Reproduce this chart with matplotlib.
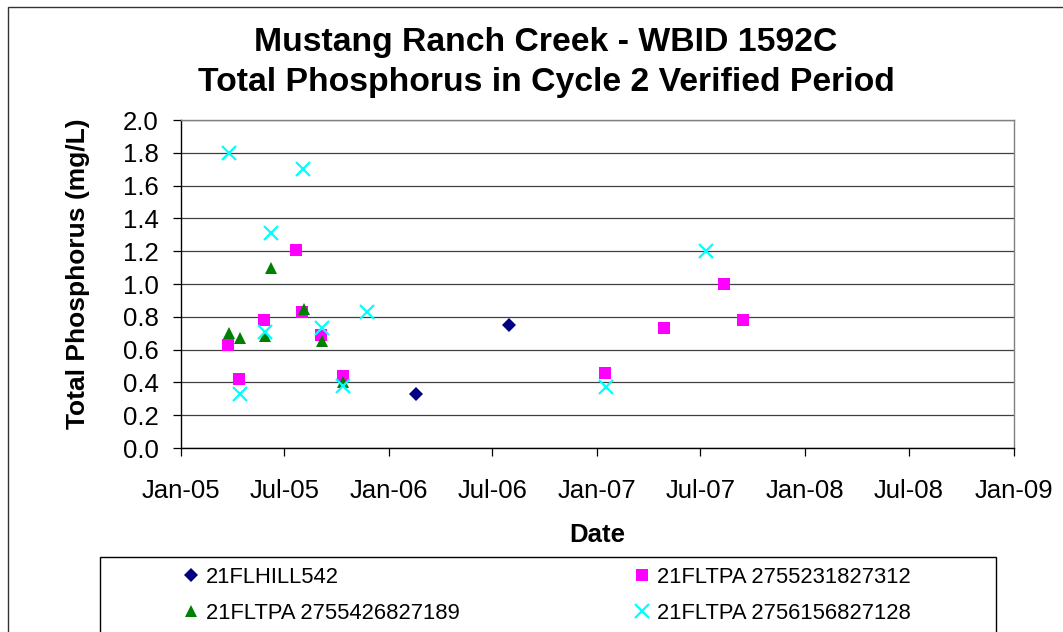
import datetime as dt
import matplotlib
matplotlib.use("Agg")
import matplotlib.pyplot as plt
import matplotlib.dates as mdates
from matplotlib.patches import Rectangle
from matplotlib.lines import Line2D

plt.rcParams["font.family"] = ["Liberation Sans", "DejaVu Sans"]

D = dt.date

# 21FLHILL542
hill_dates = [D(2006, 2, 17), D(2006, 7, 30)]
hill_tp = [0.33, 0.75]

# 21FLTPA 2755231827312
tpa1_dates = [D(2005, 3, 24), D(2005, 4, 12), D(2005, 5, 27), D(2005, 7, 22),
              D(2005, 8, 2), D(2005, 9, 4), D(2005, 10, 12), D(2007, 1, 15),
              D(2007, 4, 29), D(2007, 8, 11), D(2007, 9, 14)]
tpa1_tp = [0.63, 0.42, 0.78, 1.21, 0.83, 0.69, 0.44, 0.46, 0.73, 1.00, 0.78]

# 21FLTPA 2755426827189
tpa2_dates = [D(2005, 3, 26), D(2005, 4, 14), D(2005, 5, 29), D(2005, 6, 8),
              D(2005, 8, 4), D(2005, 9, 6), D(2005, 10, 13)]
tpa2_tp = [0.70, 0.67, 0.68, 1.10, 0.85, 0.65, 0.40]

# 21FLTPA 2756156827128
tpa3_dates = [D(2005, 3, 26), D(2005, 8, 3), D(2005, 6, 8), D(2005, 5, 28),
              D(2005, 9, 6), D(2005, 11, 23), D(2005, 4, 14), D(2005, 10, 13),
              D(2007, 1, 16), D(2007, 7, 11)]
tpa3_tp = [1.80, 1.70, 1.31, 0.71, 0.73, 0.83, 0.33, 0.38, 0.37, 1.20]

labels = ["21FLHILL542", "21FLTPA 2755231827312",
          "21FLTPA 2755426827189", "21FLTPA 2756156827128"]
tick_dates = [D(2005, 1, 1), D(2005, 7, 1), D(2006, 1, 1), D(2006, 7, 1), D(2007, 1, 1),
              D(2007, 7, 1), D(2008, 1, 1), D(2008, 7, 1), D(2009, 1, 1)]

W, H = 1063, 632
fig = plt.figure(figsize=(W / 100, H / 100), dpi=100)
ax = fig.add_axes([181 / W, 1 - 448 / H, (1014 - 181) / W, (448 - 120) / H])

styles = [
    dict(marker="D", color="#000080", ms=7.5, mew=0),
    dict(marker="s", color="#FF00FF", ms=9, mew=0),
    dict(marker="^", color="#008000", ms=8.5, mew=0),
    dict(marker="x", color="#00FFFF", ms=10.5, mew=1.6),
]
series = [(hill_dates, hill_tp), (tpa1_dates, tpa1_tp), (tpa2_dates, tpa2_tp), (tpa3_dates, tpa3_tp)]
for (x, y), st, lab in zip(series, styles, labels):
    ax.plot(x, y, linestyle="none", marker=st["marker"], color=st["color"],
            markersize=st["ms"], markeredgewidth=st["mew"], label=lab, clip_on=False, zorder=3)

ax.set_xlim(tick_dates[0], tick_dates[-1])
ax.set_ylim(0, 2.0)
ax.set_xticks(tick_dates)
ax.xaxis.set_major_formatter(mdates.DateFormatter("%b-%y"))
ax.set_yticks([i / 5 for i in range(11)])
ax.yaxis.set_major_formatter(plt.FormatStrFormatter("%.1f"))
ax.grid(axis="y", color="#404040", linewidth=0.9)
ax.set_axisbelow(True)
ax.tick_params(axis="both", direction="out", length=6, width=0.9, labelsize=18.5, colors="black")
ax.tick_params(axis="x", pad=16)
ax.tick_params(axis="y", pad=10)
for s in ["top", "right"]:
    ax.spines[s].set_color("#808080")
for s in ["left", "bottom"]:
    ax.spines[s].set_color("black")
for s in ax.spines.values():
    s.set_linewidth(1)

fig.text(546 / W, 1 - 43 / H, "Mustang Ranch Creek - WBID 1592C", ha="center", va="center",
         fontsize=24.3, fontweight="bold")
fig.text(546 / W, 1 - 83 / H, "Total Phosphorus in Cycle 2 Verified Period", ha="center", va="center",
         fontsize=24.3, fontweight="bold")
fig.text(78 / W, 1 - 274 / H, "Total Phosphorus (mg/L)", ha="center", va="center", rotation=90,
         fontsize=19, fontweight="bold")
fig.text(597 / W, 1 - 535 / H, "Date", ha="center", va="center", fontsize=18.5, fontweight="bold")

# outer chart frame (left and top visible)
fig.patches.append(Rectangle((8 / W, -0.1), 1.2, 1 - 7 / H + 0.1, transform=fig.transFigure,
                             fill=False, edgecolor="#333333", linewidth=1))
# legend frame
fig.patches.append(Rectangle((100 / W, -0.1), (996 - 100) / W, 1 - 557 / H + 0.1,
                             transform=fig.transFigure, fill=False, edgecolor="black", linewidth=1))

handles = [Line2D([], [], linestyle="none", marker=st["marker"], color=st["color"],
                  markersize=st["ms"], markeredgewidth=st["mew"]) for st in styles]
leg_kw = dict(loc="upper left", frameon=False, fontsize=15.8, handlelength=0.8,
              handletextpad=0.3, labelspacing=0.68, borderaxespad=0)
fig.legend([handles[0], handles[2]], [labels[0], labels[2]],
           bbox_to_anchor=(173 / W, 1 - 558 / H), **leg_kw)
fig.legend([handles[1], handles[3]], [labels[1], labels[3]],
           bbox_to_anchor=(624 / W, 1 - 558 / H), **leg_kw)

fig.savefig("out.png", dpi=100)
